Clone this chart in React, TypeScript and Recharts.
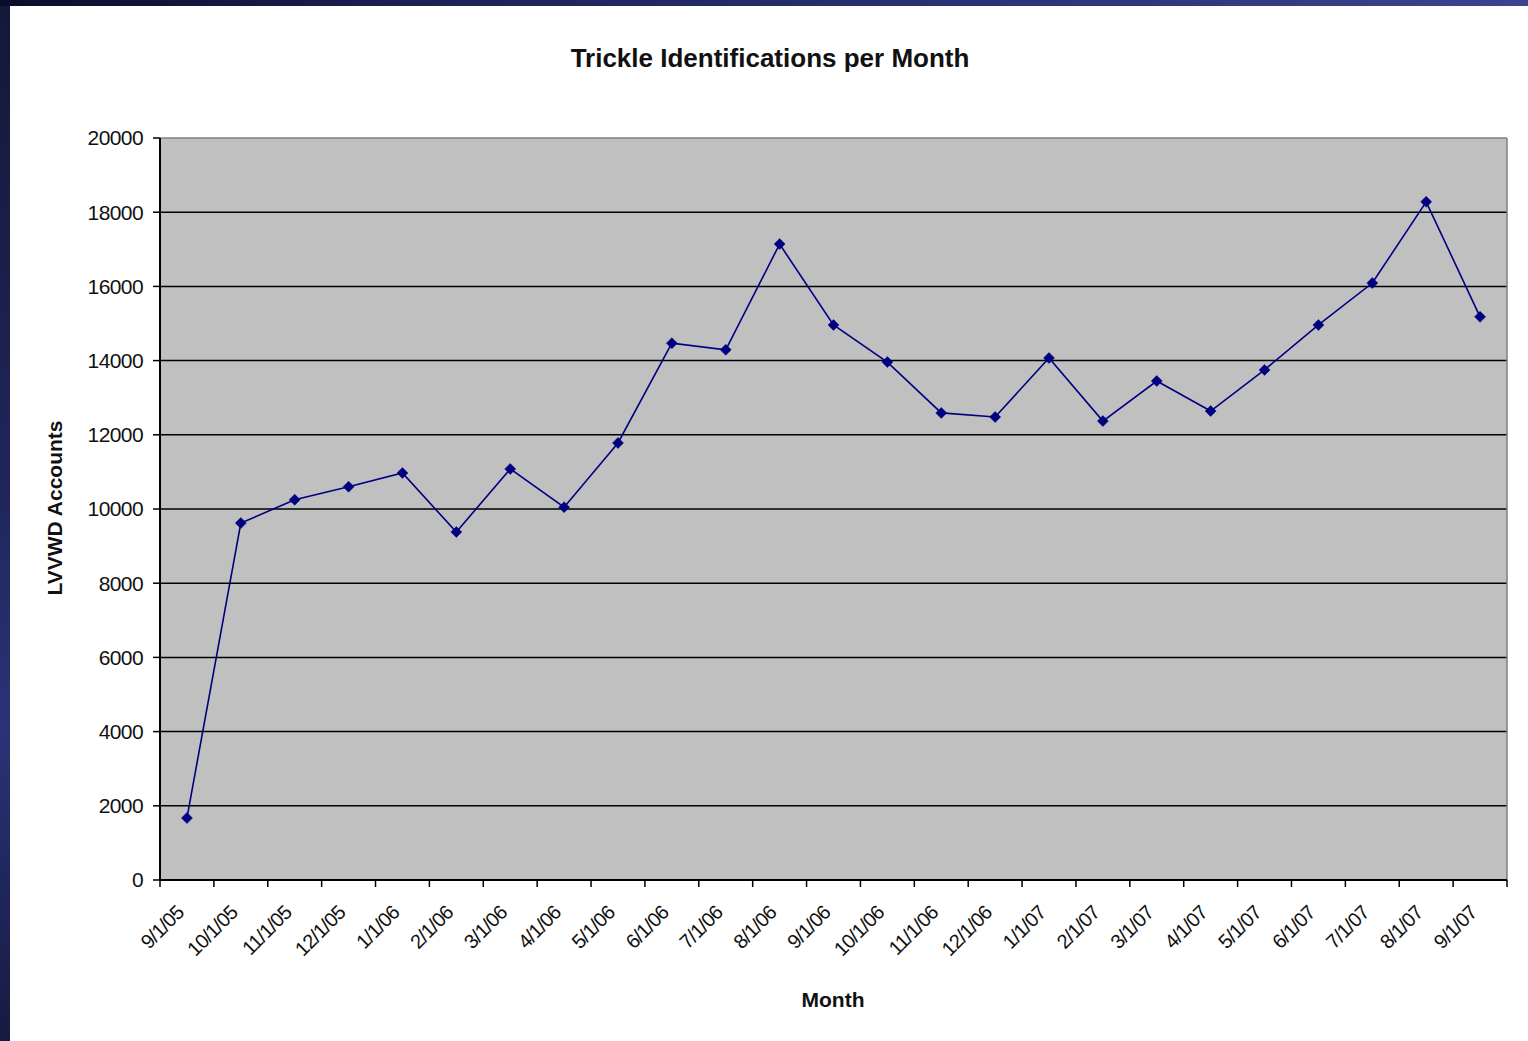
import React from "react";
import {
  CartesianGrid,
  Line,
  LineChart,
  XAxis,
  YAxis,
} from "recharts";

const months = [
  "9/1/05", "10/1/05", "11/1/05", "12/1/05", "1/1/06", "2/1/06", "3/1/06",
  "4/1/06", "5/1/06", "6/1/06", "7/1/06", "8/1/06", "9/1/06", "10/1/06",
  "11/1/06", "12/1/06", "1/1/07", "2/1/07", "3/1/07", "4/1/07", "5/1/07",
  "6/1/07", "7/1/07", "8/1/07", "9/1/07",
];

const accounts = [
  1670, 9620, 10250, 10600, 10970, 9380, 11080, 10050, 11780, 14470, 14290,
  17140, 14960, 13960, 12590, 12480, 14070, 12370, 13450, 12640, 13750, 14960,
  16090, 18280, 15180,
];

const yTicks = [0, 2000, 4000, 6000, 8000, 10000, 12000, 14000, 16000, 18000, 20000];

// points sit in the middle of each month slot, tick marks on the slot edges
const data = months.map((m, i) => ({ month: m, pos: i + 0.5, value: accounts[i] }));
const xTicks: number[] = [];
for (let i = 0; i <= months.length; i++) {
  xTicks.push(i);
  if (i < months.length) xTicks.push(i + 0.5);
}

const FONT = "Arial, 'Liberation Sans', Helvetica, sans-serif";
const NAVY = "#000080";

function Diamond(props: any) {
  const { cx, cy } = props;
  if (cx == null || cy == null) return null;
  const r = 5.5;
  return (
    <polygon
      points={`${cx},${cy - r} ${cx + r},${cy} ${cx},${cy + r} ${cx - r},${cy}`}
      fill={NAVY}
      stroke={NAVY}
      strokeWidth={0.5}
    />
  );
}

function MonthTick(props: any) {
  const { x, y, payload } = props;
  const v = payload.value as number;
  if (Number.isInteger(v)) {
    return <line x1={x} y1={y} x2={x} y2={y + 7} stroke="#000" strokeWidth={1.5} />;
  }
  const label = months[Math.round(v - 0.5)];
  const ax = x - 2;
  const ay = y + 34;
  return (
    <text
      x={ax}
      y={ay}
      transform={`rotate(-45, ${ax}, ${ay})`}
      textAnchor="end"
      fontSize={20}
      letterSpacing={-0.8}
      fontFamily={FONT}
      fill="#111"
    >
      {label}
    </text>
  );
}

export default function App() {
  return (
    <div
      style={{
        position: "absolute",
        left: 0,
        top: 0,
        width: 1528,
        height: 1041,
        background: "linear-gradient(180deg, #141838 0%, #1f2558 45%, #2a3378 70%, #161a40 100%)",
        overflow: "hidden",
      }}
    >
      <div
        style={{
          position: "absolute",
          left: 0,
          top: 0,
          width: 1528,
          height: 6,
          background: "linear-gradient(90deg, #0b0d2a 0%, #1d2258 30%, #2a3070 60%, #3c438f 100%)",
        }}
      />
      <div
        style={{
          position: "absolute",
          left: 10,
          top: 6,
          width: 1518,
          height: 1035,
          background: "#fff",
          fontFamily: FONT,
        }}
      >
        <div
          style={{
            position: "absolute",
            left: 0,
            width: 1518,
            top: 36,
            textAlign: "center",
            fontWeight: "bold",
            fontSize: 26,
            color: "#111",
            lineHeight: "32px",
          }}
        >
          <span style={{ position: "relative", left: 1 }}>Trickle Identifications per Month</span>
        </div>
        <div
          style={{
            position: "absolute",
            left: 45,
            top: 502,
            transform: "translate(-50%, -50%) rotate(-90deg)",
            whiteSpace: "nowrap",
            fontWeight: "bold",
            fontSize: 21,
            color: "#111",
          }}
        >
          LVVWD Accounts
        </div>
        <div
          style={{
            position: "absolute",
            left: 823,
            top: 994,
            transform: "translate(-50%, -50%)",
            whiteSpace: "nowrap",
            fontWeight: "bold",
            fontSize: 21,
            color: "#111",
          }}
        >
          Month
        </div>
        <div style={{ position: "absolute", left: 0, top: 0 }}>
          <LineChart
            width={1518}
            height={1035}
            data={data}
            margin={{ top: 132, right: 21, left: 50, bottom: 61 }}
          >
            <CartesianGrid
              fill="#C0C0C0"
              stroke="#000"
              strokeWidth={1.5}
              vertical={false}
              horizontalValues={[2000, 4000, 6000, 8000, 10000, 12000, 14000, 16000, 18000]}
            />
            <CartesianGrid
              stroke="#808080"
              strokeWidth={1.5}
              horizontalValues={[20000]}
              verticalCoordinatesGenerator={({ offset }: any) => [offset.left + offset.width]}
            />
            <XAxis
              type="number"
              dataKey="pos"
              domain={[0, months.length]}
              ticks={xTicks}
              interval={0}
              height={100}
              tickSize={0}
              tickMargin={0}
              tickLine={false}
              axisLine={{ stroke: "#000", strokeWidth: 2 }}
              tick={<MonthTick />}
            />
            <YAxis
              type="number"
              domain={[0, 20000]}
              ticks={yTicks}
              interval={0}
              width={100}
              tickSize={7}
              tickMargin={10}
              tickLine={{ stroke: "#000", strokeWidth: 1.5 }}
              axisLine={{ stroke: "#000", strokeWidth: 2 }}
              tick={{ fill: "#111", fontSize: 21, fontFamily: FONT, letterSpacing: -0.6 }}
            />
            <Line
              type="linear"
              dataKey="value"
              stroke={NAVY}
              strokeWidth={1.6}
              dot={<Diamond />}
              activeDot={false}
              isAnimationActive={false}
            />
          </LineChart>
        </div>
      </div>
    </div>
  );
}
